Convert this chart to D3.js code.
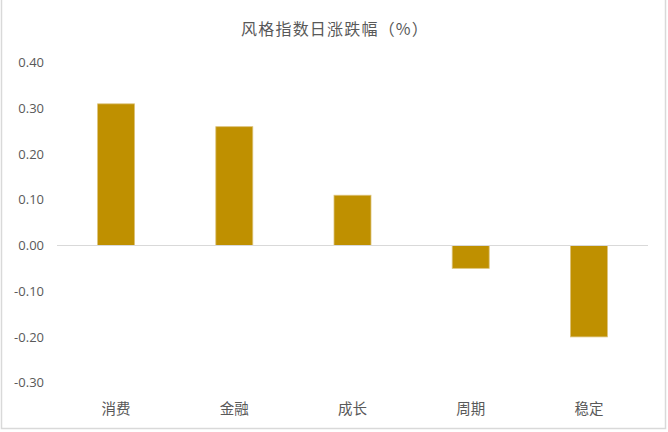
<!DOCTYPE html>
<html><head><meta charset="utf-8">
<script src="https://cdn.jsdelivr.net/npm/d3@7"></script>
<style>body{margin:0;background:#fff}svg{display:block}</style>
</head><body>
<script>
const title = "风格指数日涨跌幅（%）";
const categories = ["消费","金融","成长","周期","稳定"];
const values = [0.31, 0.26, 0.11, -0.05, -0.20];
const yTicks = [0.40,0.30,0.20,0.10,0.00,-0.10,-0.20,-0.30];

const W=668,H=432;
const svg=d3.select("body").append("svg").attr("width",W).attr("height",H);
svg.append("rect").attr("x",1.5).attr("y",-2).attr("width",664).attr("height",430.5)
  .attr("fill","#fff").attr("stroke","#d9d9d9").attr("stroke-width",1.5);

const font="'Noto Sans CJK SC','Noto Sans',sans-serif";
const x=d3.scaleBand().domain(categories).range([57,648]).paddingInner(0.687).paddingOuter(0.3435);
const y=d3.scaleLinear().domain([-0.30,0.40]).range([382.6,62.7]);
const fmt=d3.formatLocale({decimal:".",thousands:",",grouping:[3],currency:["",""],minus:"-"}).format(".2f");

svg.append("text").attr("x",335).attr("y",35).attr("text-anchor","middle")
  .attr("font-family",font).attr("font-size",16).attr("letter-spacing",1.2).attr("fill","#595959").text(title);

const yAxis=svg.append("g").attr("transform","translate(44,0)")
  .call(d3.axisLeft(y).tickValues(yTicks).tickFormat(fmt).tickSize(0).tickPadding(0));
yAxis.select(".domain").remove();
yAxis.selectAll("text").attr("font-family","'Open Sans','Liberation Sans',sans-serif").attr("font-size",13).attr("fill","#595959");

svg.selectAll("rect.bar").data(values).join("rect").attr("class","bar")
  .attr("x",(d,i)=>x(categories[i]))
  .attr("width",x.bandwidth())
  .attr("y",d=>y(Math.max(0,d)))
  .attr("height",d=>Math.abs(y(d)-y(0)))
  .attr("fill","#bf9000").attr("stroke","#dcc27a").attr("stroke-width",0.8);

svg.append("line").attr("x1",57).attr("x2",648).attr("y1",y(0)).attr("y2",y(0))
  .attr("stroke","#d9d9d9").attr("stroke-width",1.2);

const xAxis=svg.append("g").attr("transform","translate(0,414)")
  .call(d3.axisBottom(x).tickSize(0).tickPadding(0));
xAxis.select(".domain").remove();
xAxis.selectAll("text").attr("font-family",font).attr("font-size",14.5).attr("fill","#595959").attr("dy","0");
</script>
</body></html>
